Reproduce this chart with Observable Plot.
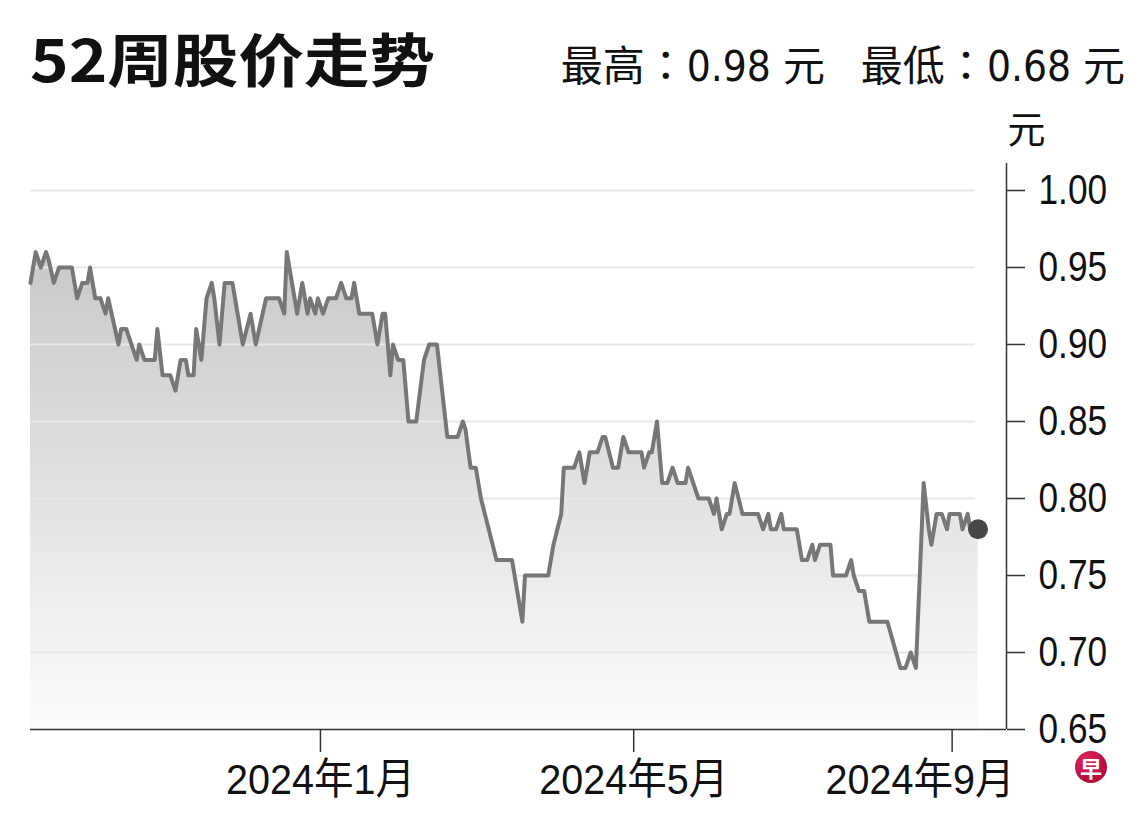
<!DOCTYPE html>
<html><head><meta charset="utf-8">
<script src="https://cdn.jsdelivr.net/npm/d3@7"></script>
<script src="https://cdn.jsdelivr.net/npm/@observablehq/plot@0.6"></script>
<style>
html,body{margin:0;padding:0;background:#fff;}
#page{position:relative;width:1140px;height:818px;overflow:hidden;background:#fff;}
#head{position:relative;height:100px;}
#title{position:absolute;left:30px;top:28px;font-family:"Noto Sans CJK SC",sans-serif;font-weight:700;font-size:58px;line-height:1;transform-origin:0 0;white-space:nowrap;color:#111;}
#sub{position:absolute;right:15px;top:42px;font-family:"Liberation Sans Narrow","DejaVu Sans Condensed","Liberation Sans","Noto Sans CJK SC",sans-serif;font-size:42px;line-height:1;white-space:nowrap;color:#111;}
#sub .c{font-family:"Noto Sans CJK TC",sans-serif;}
#logo{position:absolute;left:1075px;top:751px;width:32px;height:32px;border-radius:50%;background:radial-gradient(circle at 35% 30%,#e0245e,#a3002c);color:#fff;font-family:"Noto Sans CJK SC",sans-serif;font-weight:700;font-size:22px;line-height:32px;text-align:center;}
</style>
</head><body>
<div id="page">
  <div id="head">
    <div id="title"></div>
    <div id="sub"></div>
  </div>
  <div id="chart"></div>
  <div id="logo">早</div>
</div>
<script>
// ---- data ----
const titleText = "52周股价走势";
const highLabel = "最高";
const lowLabel = "最低";
const highValue = "0.98";
const lowValue = "0.68";
const unit = "元";

const dates = [
"2023-09-11","2023-09-13","2023-09-15","2023-09-17","2023-09-18","2023-09-20","2023-09-22","2023-09-27","2023-09-29",
"2023-10-01","2023-10-03","2023-10-04","2023-10-06","2023-10-08","2023-10-10","2023-10-11","2023-10-15","2023-10-16",
"2023-10-18","2023-10-22","2023-10-23","2023-10-25","2023-10-29","2023-10-30",
"2023-11-01","2023-11-04","2023-11-06","2023-11-08","2023-11-10","2023-11-11","2023-11-13","2023-11-14","2023-11-16",
"2023-11-18","2023-11-20","2023-11-21","2023-11-23","2023-11-25","2023-11-28",
"2023-12-02","2023-12-05","2023-12-07","2023-12-11","2023-12-16","2023-12-18","2023-12-19","2023-12-23","2023-12-25",
"2023-12-27","2023-12-28","2023-12-30","2023-12-31",
"2024-01-02","2024-01-04","2024-01-07","2024-01-09","2024-01-11","2024-01-13","2024-01-14","2024-01-16","2024-01-21",
"2024-01-23","2024-01-25","2024-01-26","2024-01-28","2024-01-29","2024-01-31",
"2024-02-02","2024-02-04","2024-02-07","2024-02-10","2024-02-12","2024-02-15","2024-02-19","2024-02-23","2024-02-25",
"2024-02-26","2024-02-28",
"2024-03-01","2024-03-03","2024-03-09","2024-03-15","2024-03-19","2024-03-20","2024-03-29","2024-03-31",
"2024-04-03","2024-04-04","2024-04-08","2024-04-10","2024-04-12","2024-04-14","2024-04-17","2024-04-19","2024-04-20",
"2024-04-23","2024-04-25","2024-04-27","2024-04-29",
"2024-05-04","2024-05-05","2024-05-07","2024-05-08","2024-05-10","2024-05-12","2024-05-14","2024-05-16","2024-05-18",
"2024-05-21","2024-05-22","2024-05-26","2024-05-30",
"2024-06-01","2024-06-02","2024-06-04","2024-06-06","2024-06-07","2024-06-09","2024-06-12","2024-06-18","2024-06-20",
"2024-06-22","2024-06-23","2024-06-25","2024-06-27","2024-06-28",
"2024-07-03","2024-07-05","2024-07-07","2024-07-09","2024-07-10","2024-07-12","2024-07-16","2024-07-17","2024-07-22",
"2024-07-24","2024-07-25","2024-07-27","2024-07-29","2024-07-31",
"2024-08-07","2024-08-12","2024-08-14","2024-08-16","2024-08-18","2024-08-21","2024-08-23","2024-08-24","2024-08-26",
"2024-08-28","2024-08-30","2024-08-31",
"2024-09-04","2024-09-05","2024-09-07","2024-09-08","2024-09-11"
];
const prices = [
0.94,0.96,0.95,0.96,0.955,0.94,0.95,0.95,0.93,
0.94,0.94,0.95,0.93,0.93,0.92,0.93,0.90,0.91,
0.91,0.89,0.90,0.89,0.89,0.91,
0.88,0.88,0.87,0.89,0.89,0.88,0.88,0.91,0.89,
0.93,0.94,0.93,0.90,0.94,0.94,
0.90,0.92,0.90,0.93,0.93,0.92,0.96,0.92,0.94,
0.92,0.93,0.92,0.93,
0.92,0.93,0.93,0.94,0.93,0.93,0.94,0.92,0.92,
0.90,0.92,0.92,0.88,0.90,0.89,
0.89,0.85,0.85,0.89,0.90,0.90,0.84,0.84,0.85,
0.845,0.82,
0.82,0.80,0.76,0.76,0.72,0.75,0.75,0.77,
0.79,0.82,0.82,0.83,0.81,0.83,0.83,0.84,0.84,
0.82,0.82,0.84,0.83,
0.83,0.82,0.83,0.83,0.85,0.81,0.81,0.82,0.81,
0.81,0.82,0.80,0.80,
0.79,0.80,0.78,0.79,0.79,0.81,0.79,0.79,0.78,
0.79,0.78,0.78,0.79,0.78,
0.78,0.76,0.76,0.77,0.76,0.77,0.77,0.75,0.75,
0.76,0.75,0.74,0.74,0.72,
0.72,0.69,0.69,0.70,0.69,0.81,0.78,0.77,0.79,
0.79,0.78,0.79,
0.79,0.78,0.79,0.78,0.78
];
const xDomain = ["2023-09-11","2024-09-22"];
const xTicks = ["2024-01-01","2024-05-01","2024-09-01"];
const xTickLabels = ["2024年1月","2024年5月","2024年9月"];
const yTicks = [0.65,0.70,0.75,0.80,0.85,0.90,0.95,1.00];

// ---- header ----
const titleEl = document.getElementById("title");
titleEl.textContent = titleText;
const naturalW = titleEl.getBoundingClientRect().width;
titleEl.style.transform = `scaleX(${405 / naturalW})`;
document.getElementById("sub").innerHTML =
  `${highLabel}<span class="c">：</span>${highValue} ${unit}&nbsp;&nbsp;&nbsp;${lowLabel}<span class="c">：</span>${lowValue} ${unit}`;

// ---- chart ----
const data = dates.map((d, i) => ({date: new Date(d), value: prices[i]}));
const tickData = xTicks.map((d, i) => ({date: new Date(d), label: xTickLabels[i]}));
const numFont = `"Liberation Sans","Noto Sans CJK SC",sans-serif`;

function gradientDefs() {
  const ns = "http://www.w3.org/2000/svg";
  const defs = document.createElementNS(ns, "defs");
  const g = document.createElementNS(ns, "linearGradient");
  g.setAttribute("id", "fade");
  g.setAttribute("x1", "0"); g.setAttribute("y1", "0");
  g.setAttribute("x2", "0"); g.setAttribute("y2", "1");
  [["0", "#c8c8c8"], ["0.5", "#e2e2e2"], ["1", "#fcfcfc"]].forEach(([o, c]) => {
    const s = document.createElementNS(ns, "stop");
    s.setAttribute("offset", o); s.setAttribute("stop-color", c);
    g.appendChild(s);
  });
  defs.appendChild(g);
  return defs;
}

const yMin = yTicks[0];
const chart = Plot.plot({
  width: 1140,
  height: 718,
  marginLeft: 30,
  marginRight: 134,
  marginTop: 90,
  marginBottom: 89,
  style: {background: "#fff", fontFamily: numFont, color: "#111"},
  x: {type: "utc", domain: xDomain.map(d => new Date(d)), axis: null, label: null},
  y: {domain: [yMin, yTicks[yTicks.length - 1]], label: null},
  marks: [
    gradientDefs,
    Plot.areaY(data, {x: "date", y1: yMin, y2: "value", fill: "url(#fade)"}),
    Plot.gridY(yTicks.slice(1), {stroke: "#e8e8e8", strokeOpacity: 1, strokeWidth: 2, insetRight: 31}),
    Plot.lineY(data, {x: "date", y: "value", stroke: "#777", strokeWidth: 4, strokeLinejoin: "round"}),
    Plot.dot(data.slice(-1), {x: "date", y: "value", r: 10, fill: "#474747"}),
    Plot.ruleY([yMin], {stroke: "#333", strokeWidth: 1.5}),
    Plot.ruleX([new Date(xDomain[1])], {stroke: "#333", strokeWidth: 1.5, insetTop: -27}),
    Plot.axisY(yTicks, {anchor: "right", tickSize: 18, tickPadding: 14, tickFormat: d3.format(".2f"),
      fontSize: 43, fill: "#111", stroke: "#333", strokeWidth: 1.5, label: null}),
    Plot.ruleX(tickData, {x: "date", y1: yMin, y2: yMin, insetBottom: -23, stroke: "#333", strokeWidth: 1.5}),
    Plot.text(tickData.slice(0, 2), {x: "date", text: "label", frameAnchor: "bottom", lineAnchor: "middle",
      textAnchor: "middle", dy: 51, fontSize: 43, fill: "#111"}),
    Plot.text(tickData.slice(2), {x: "date", text: "label", frameAnchor: "bottom", lineAnchor: "middle",
      textAnchor: "middle", dy: 51, dx: -32, fontSize: 43, fill: "#111"}),
    Plot.text([unit], {frameAnchor: "top-right", lineAnchor: "middle", textAnchor: "middle", dx: 20, dy: -60,
      fontSize: 38, fill: "#111", fontFamily: `"Noto Sans CJK SC",sans-serif`})
  ]
});

// condense numeric labels horizontally around their anchor point (narrow-font look)
function num(v) {
  if (v == null || /[a-z%]/i.test(v)) return 0;
  const n = parseFloat(v);
  return isFinite(n) ? n : 0;
}
function condense(t, s) {
  const cx = num(t.getAttribute("x")), cy = num(t.getAttribute("y"));
  const tr = t.getAttribute("transform") || "";
  t.setAttribute("transform", `${tr} translate(${cx},${cy}) scale(${s},1) translate(${-cx},${-cy})`.trim());
}
chart.querySelectorAll("text").forEach(t => {
  const s = t.textContent;
  if (yTicks.map(d3.format(".2f")).includes(s)) condense(t, 0.82);
  else if (xTickLabels.includes(s)) condense(t, 0.92);
});
document.getElementById("chart").appendChild(chart);
</script>
</body></html>
